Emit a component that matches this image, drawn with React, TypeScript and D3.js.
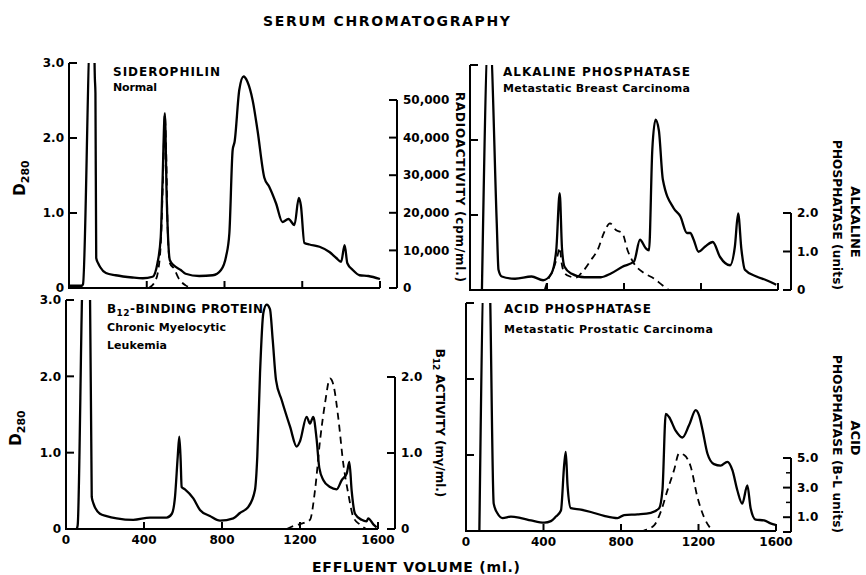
import React from 'react';
import * as d3 from 'd3';

// ---------- tick values / labels ----------
const xTickValues = [0, 400, 800, 1200, 1600];
const xTickLabels = ['0', '400', '800', '1200', '1600'];
const d280TickValues = [0, 1, 2, 3];
const d280TickLabels = ['0', '1.0', '2.0', '3.0'];
const radioTickValues = [0, 10000, 20000, 30000, 40000, 50000];
const radioTickLabels = ['0', '10,000', '20,000', '30,000', '40,000', '50,000'];
const alkTickValues = [0, 1, 2];
const alkTickLabels = ['0', '1.0', '2.0'];
const b12TickValues = [0, 1, 2];
const b12TickLabels = ['0', '1.0', '2.0'];
const acidTickValues = [1, 3, 5];
const acidTickLabels = ['1.0', '3.0', '5.0'];
const acidMinorTicks = [2, 4];

// ---------- data: [effluent volume (ml), value] ----------
const sideroD280: [number, number][] = [
  [0, 0.03], [65, 0.03], [72, 0.05], [110, 3.4], [128, 3.4], [133, 2.8], [136, 2.6], [140, 0.4],
  [150, 0.33], [160, 0.28], [190, 0.2], [240, 0.17], [326, 0.14], [380, 0.13], [430, 0.15],
  [455, 0.33], [472, 0.68], [481, 1.4], [493, 2.33], [503, 1.17], [519, 0.37], [540, 0.3],
  [575, 0.24], [600, 0.19], [670, 0.16], [740, 0.17], [782, 0.24], [808, 0.42], [825, 0.73],
  [842, 1.84], [852, 1.95], [876, 2.64], [898, 2.82], [918, 2.75], [945, 2.5], [970, 2.1],
  [1005, 1.47], [1030, 1.35], [1065, 1.13], [1098, 0.88], [1129, 0.92], [1160, 0.84],
  [1182, 1.2], [1193, 1.1], [1211, 0.6], [1237, 0.58], [1289, 0.55], [1340, 0.48], [1375, 0.4],
  [1400, 0.35], [1418, 0.57], [1432, 0.33], [1460, 0.24], [1495, 0.17], [1540, 0.16], [1600, 0.12],
];
const sideroRadio: [number, number][] = [
  [410, 0], [440, 1500], [460, 5000], [475, 15000], [485, 32000], [493, 46000], [500, 36000],
  [508, 15000], [520, 6500], [540, 5200], [565, 2500], [600, 700], [635, 0],
];

const alkD280: [number, number][] = [
  [62, 0], [96, 3.4], [103, 3.4], [139, 0.89], [148, 0.27], [165, 0.18], [234, 0.15], [320, 0.18],
  [380, 0.13], [423, 0.22], [448, 0.53], [466, 1.29], [478, 0.55], [491, 0.31], [526, 0.22],
  [594, 0.17], [680, 0.17], [732, 0.22], [792, 0.31], [852, 0.38], [883, 0.67], [912, 0.56],
  [930, 0.53], [947, 1.87], [964, 2.27], [981, 2.13], [1002, 1.47], [1058, 1.09], [1093, 0.98],
  [1127, 0.76], [1144, 0.76], [1162, 0.67], [1187, 0.51], [1222, 0.58], [1261, 0.64],
  [1299, 0.44], [1351, 0.33], [1376, 0.58], [1393, 1.02], [1410, 0.54], [1428, 0.27],
  [1488, 0.18], [1540, 0.13], [1591, 0.07],
];
const alkActivity: [number, number][] = [
  [388, 0], [405, 0.26], [430, 0.5], [455, 0.9], [466, 1.1], [476, 0.7], [490, 0.45], [520, 0.35],
  [550, 0.32], [577, 0.43], [629, 0.78], [663, 1.04], [698, 1.51], [727, 1.73], [758, 1.56],
  [792, 1.47], [818, 1.04], [852, 0.69], [904, 0.44], [955, 0.3], [998, 0.13], [1033, 0],
];

const b12D280: [number, number][] = [
  [55, 0], [60, 0.05], [88, 3.4], [122, 3.4], [132, 0.42], [140, 0.34], [174, 0.2], [208, 0.17],
  [260, 0.14], [345, 0.12], [431, 0.15], [516, 0.15], [543, 0.2], [559, 0.42], [573, 0.95],
  [581, 1.21], [588, 0.9], [593, 0.55], [610, 0.52], [653, 0.4], [687, 0.25], [738, 0.17],
  [790, 0.11], [858, 0.14], [892, 0.21], [935, 0.29], [969, 0.51], [981, 0.95], [995, 2.04],
  [1012, 2.83], [1029, 2.94], [1046, 2.88], [1060, 2.48], [1077, 1.95], [1106, 1.69],
  [1149, 1.34], [1183, 1.08], [1200, 1.15], [1234, 1.47], [1251, 1.38], [1268, 1.47],
  [1285, 1.18], [1299, 0.8], [1320, 0.64], [1354, 0.55], [1388, 0.52], [1414, 0.64],
  [1440, 0.73], [1453, 0.88], [1465, 0.5], [1482, 0.2], [1516, 0.12], [1541, 0.1], [1550, 0.14],
  [1576, 0.06], [1593, 0.02],
];
const b12Activity: [number, number][] = [
  [1132, 0], [1166, 0.04], [1220, 0.08], [1251, 0.12], [1277, 0.51], [1303, 1.17], [1328, 1.65],
  [1354, 1.98], [1371, 1.9], [1396, 1.47], [1422, 0.86], [1448, 0.46], [1473, 0.16], [1506, 0.06],
  [1540, 0],
];

const acidD280: [number, number][] = [
  [69, 0], [94, 3.4], [120, 3.4], [143, 0.36], [163, 0.23], [189, 0.17], [232, 0.19], [284, 0.17],
  [335, 0.14], [404, 0.11], [438, 0.13], [464, 0.19], [490, 0.27], [507, 0.88], [515, 1.04],
  [524, 0.6], [541, 0.3], [593, 0.28], [644, 0.25], [713, 0.2], [782, 0.17], [816, 0.21],
  [885, 0.22], [954, 0.24], [997, 0.3], [1014, 0.54], [1031, 1.54], [1048, 1.5], [1082, 1.32],
  [1117, 1.23], [1151, 1.39], [1186, 1.59], [1203, 1.52], [1220, 1.34], [1246, 1.02],
  [1280, 0.88], [1314, 0.86], [1349, 0.91], [1375, 0.8], [1400, 0.54], [1426, 0.36],
  [1452, 0.6], [1469, 0.3], [1495, 0.15], [1538, 0.14], [1572, 0.1], [1598, 0.08],
];
const acidActivity: [number, number][] = [
  [900, 0], [919, 0.1], [971, 0.45], [1005, 1.36], [1040, 2.83], [1074, 4.19], [1100, 5.32],
  [1126, 5.2], [1160, 4.41], [1194, 2.38], [1228, 1.02], [1263, 0.23], [1280, 0],
];

const FONT = "'DejaVu Sans', 'Liberation Sans', Arial, sans-serif";

type PanelProps = {
  id: string;
  xRange: [number, number];
  yBottom: number;
  yTop: number;
  solid: [number, number][];
  dashed: [number, number][];
  rDomain: [number, number];
  rRange: [number, number];
  rAxisX: number;
  rTicks: number[];
  rLabels: string[];
  rMinor?: number[];
  leftLabels: boolean;
  xLabels: boolean;
};

function Panel(p: PanelProps) {
  const x = d3.scaleLinear().domain([0, 1600]).range(p.xRange);
  const yL = d3.scaleLinear().domain([0, 3]).range([p.yBottom, p.yTop]);
  const yR = d3.scaleLinear().domain(p.rDomain).range(p.rRange);
  const lineL = d3.line<[number, number]>().x(d => x(d[0])).y(d => yL(d[1])).curve(d3.curveMonotoneX);
  const lineR = d3.line<[number, number]>().x(d => x(d[0])).y(d => yR(d[1])).curve(d3.curveMonotoneX);
  const ax = x(0);
  const sw = 2;
  const rTop = yR(p.rDomain[1]);
  const rBot = yR(p.rDomain[0]);
  return (
    <g>
      <defs>
        <clipPath id={`clip-${p.id}`}>
          <rect x={ax} y={p.yTop} width={x(1600) - ax + 8} height={p.yBottom - p.yTop} />
        </clipPath>
      </defs>
      {/* left axis */}
      <line x1={ax} x2={ax} y1={p.yBottom} y2={p.yTop} stroke="#000" strokeWidth={sw} />
      {d280TickValues.filter(v => v > 0).map(v => (
        <line key={v} x1={ax} x2={ax + 8} y1={yL(v)} y2={yL(v)} stroke="#000" strokeWidth={sw} />
      ))}
      {p.leftLabels && d280TickValues.map((v, i) => (
        <text key={'l' + v} x={ax - 5} y={yL(v)} dy="0.35em" textAnchor="end" fontFamily={FONT}
          fontWeight="bold" fontSize={12}>{d280TickLabels[i]}</text>
      ))}
      {/* x axis */}
      <line x1={ax - 1} x2={x(1600)} y1={p.yBottom} y2={p.yBottom} stroke="#000" strokeWidth={sw} />
      {xTickValues.filter(v => v > 0).map(v => (
        <line key={v} x1={x(v)} x2={x(v)} y1={p.yBottom} y2={p.yBottom - 7} stroke="#000" strokeWidth={sw} />
      ))}
      {p.xLabels && xTickValues.map((v, i) => (
        <text key={'x' + v} x={x(v)} y={p.yBottom + 15} textAnchor="middle" fontFamily={FONT}
          fontWeight="bold" fontSize={12}>{xTickLabels[i]}</text>
      ))}
      {/* right axis */}
      <line x1={p.rAxisX} x2={p.rAxisX} y1={rBot} y2={rTop} stroke="#000" strokeWidth={sw} />
      {p.rTicks.map(v => (
        <line key={'r' + v} x1={p.rAxisX - 8} x2={p.rAxisX} y1={yR(v)} y2={yR(v)} stroke="#000" strokeWidth={sw} />
      ))}
      <line x1={p.rAxisX - 8} x2={p.rAxisX} y1={rTop} y2={rTop} stroke="#000" strokeWidth={sw} />
      <line x1={p.rAxisX - 8} x2={p.rAxisX} y1={rBot} y2={rBot} stroke="#000" strokeWidth={sw} />
      {(p.rMinor || []).map(v => (
        <line key={'m' + v} x1={p.rAxisX - 5} x2={p.rAxisX} y1={yR(v)} y2={yR(v)} stroke="#000" strokeWidth={1.5} />
      ))}
      {p.rTicks.map((v, i) => (
        <text key={'rl' + v} x={p.rAxisX + 6} y={yR(v)} dy="0.35em" fontFamily={FONT}
          fontWeight="bold" fontSize={12}>{p.rLabels[i]}</text>
      ))}
      {/* curves */}
      <g clipPath={`url(#clip-${p.id})`}>
        <path d={lineL(p.solid) || ''} fill="none" stroke="#000" strokeWidth={2.3} strokeLinejoin="round" />
        <path d={lineR(p.dashed) || ''} fill="none" stroke="#000" strokeWidth={1.8} strokeDasharray="7,5" />
      </g>
    </g>
  );
}

function D280({ x, y }: { x: number; y: number }) {
  return (
    <text transform={`translate(${x},${y}) rotate(-90)`} textAnchor="middle" fontFamily={FONT}
      fontWeight="bold" fontSize={15}>
      D<tspan fontSize={11} dy={4}>280</tspan>
    </text>
  );
}

export default function App() {
  const T = { fontFamily: FONT, fontWeight: 'bold' as const };
  return (
    <svg width={866} height={575} style={{ position: 'absolute', left: 0, top: 0, background: '#fff' }}>
      <rect width={866} height={575} fill="#fff" />
      <text x={263} y={26} textLength={247} lengthAdjust="spacing" fontSize={14} {...T}>SERUM CHROMATOGRAPHY</text>

      <Panel id="tl" xRange={[69, 380]} yBottom={288} yTop={63} solid={sideroD280} dashed={sideroRadio}
        rDomain={[0, 50000]} rRange={[288, 100]} rAxisX={397} rTicks={radioTickValues} rLabels={radioTickLabels}
        leftLabels={true} xLabels={false} />
      <Panel id="tr" xRange={[470, 778]} yBottom={290} yTop={65} solid={alkD280} dashed={alkActivity}
        rDomain={[0, 2]} rRange={[290, 213]} rAxisX={791} rTicks={alkTickValues} rLabels={alkTickLabels}
        leftLabels={false} xLabels={false} />
      <Panel id="bl" xRange={[66, 378]} yBottom={529} yTop={300} solid={b12D280} dashed={b12Activity}
        rDomain={[0, 2]} rRange={[529, 377]} rAxisX={395} rTicks={b12TickValues} rLabels={b12TickLabels}
        leftLabels={true} xLabels={true} />
      <Panel id="br" xRange={[466, 776]} yBottom={531} yTop={303} solid={acidD280} dashed={acidActivity}
        rDomain={[0, 5]} rRange={[532, 458]} rAxisX={791} rTicks={acidTickValues} rLabels={acidTickLabels}
        rMinor={acidMinorTicks} leftLabels={false} xLabels={true} />

      {/* panel titles */}
      <text x={113} y={76} textLength={107} lengthAdjust="spacing" fontSize={12} {...T}>SIDEROPHILIN</text>
      <text x={113} y={91} textLength={44} lengthAdjust="spacing" fontSize={11} {...T}>Normal</text>

      <text x={503} y={76} textLength={187} lengthAdjust="spacing" fontSize={12} {...T}>ALKALINE PHOSPHATASE</text>
      <text x={503} y={92} textLength={187} lengthAdjust="spacing" fontSize={11} {...T}>Metastatic Breast Carcinoma</text>

      <text x={107} y={313} textLength={156} lengthAdjust="spacing" fontSize={12} {...T}>
        B<tspan fontSize={9} dy={3}>12</tspan><tspan dy={-3}>-BINDING PROTEIN</tspan>
      </text>
      <text x={107} y={331} textLength={119} lengthAdjust="spacing" fontSize={11} {...T}>Chronic Myelocytic</text>
      <text x={107} y={349} textLength={60} lengthAdjust="spacing" fontSize={11} {...T}>Leukemia</text>

      <text x={504} y={313} textLength={147} lengthAdjust="spacing" fontSize={12} {...T}>ACID PHOSPHATASE</text>
      <text x={504} y={333} textLength={209} lengthAdjust="spacing" fontSize={11} {...T}>Metastatic Prostatic Carcinoma</text>

      {/* axis titles */}
      <D280 x={25} y={178} />
      <D280 x={21} y={428} />

      <text transform="translate(456,187) rotate(90)" textAnchor="middle" textLength={190} lengthAdjust="spacing"
        fontSize={12} {...T}>RADIOACTIVITY (cpm/ml.)</text>
      <text transform="translate(436,423) rotate(90)" textAnchor="middle" fontSize={12} {...T}>
        B<tspan fontSize={9} dy={3}>12</tspan><tspan dy={-3}> ACTIVITY (mγ/ml.)</tspan>
      </text>

      <text transform="translate(851,222) rotate(90)" textAnchor="middle" fontSize={13} {...T}>ALKALINE</text>
      <text transform="translate(833,215) rotate(90)" textAnchor="middle" textLength={150} lengthAdjust="spacing"
        fontSize={12} {...T}>PHOSPHATASE (units)</text>
      <text transform="translate(851,438) rotate(90)" textAnchor="middle" fontSize={13} {...T}>ACID</text>
      <text transform="translate(833,444) rotate(90)" textAnchor="middle" textLength={178} lengthAdjust="spacing"
        fontSize={12} {...T}>PHOSPHATASE (B-L units)</text>

      <text x={312} y={572} textLength={208} lengthAdjust="spacing" fontSize={14} {...T}>EFFLUENT VOLUME (ml.)</text>
    </svg>
  );
}
